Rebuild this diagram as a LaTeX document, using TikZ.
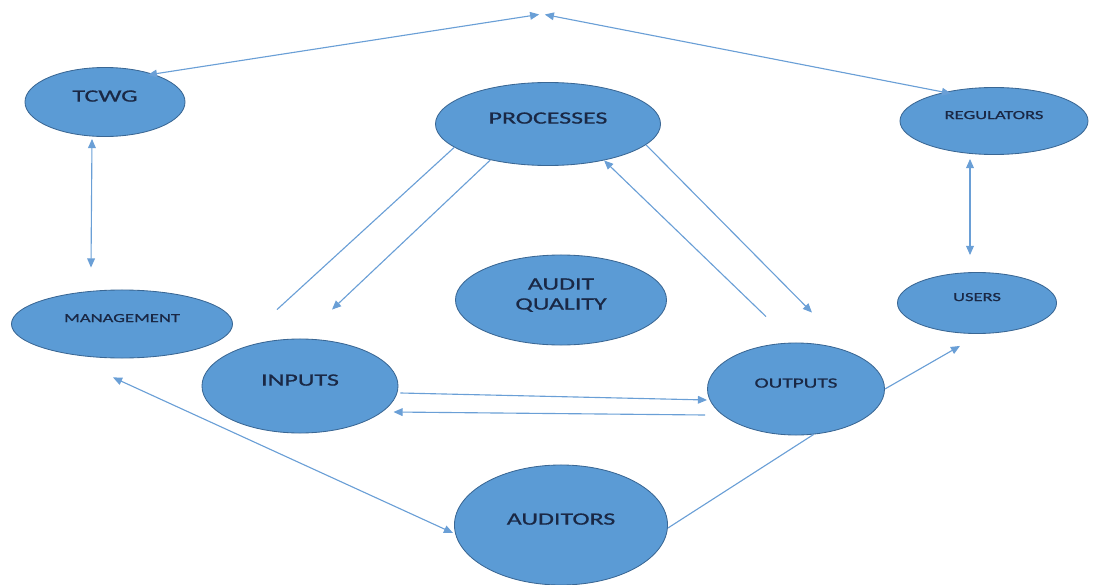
\documentclass[tikz,border=0pt]{standalone}
\usepackage{fontspec}
\newfontfamily\bubblefont[FakeStretch=1.5,FakeBold=0.7]{Carlito}
\usetikzlibrary{arrows.meta,calc,shapes.geometric}
\definecolor{BubbleBlue}{HTML}{5B9BD5}
\definecolor{BubbleEdge}{HTML}{3A6794}
\definecolor{LinkBlue}{HTML}{6A9FD6}
\definecolor{LabelNavy}{HTML}{1A2845}

\begin{document}
\begin{tikzpicture}[x=0.025cm,y=-0.025cm,
 bubble/.style={ellipse,draw=BubbleEdge,fill=BubbleBlue,line width=0.6pt,
 text=LabelNavy,align=center,text depth=8.5pt,inner sep=0pt,
 font=\bubblefont\fontsize{12.3}{14.2}\selectfont},
 small/.style={font=\bubblefont\fontsize{8.8}{10.5}\selectfont},
 mid/.style={font=\bubblefont\fontsize{10.1}{12}\selectfont},
 link/.style={draw=LinkBlue,line width=0.8pt},
 flow/.style={-{Triangle[length=6.5pt,width=5.5pt]}},
 twoway/.style={{Triangle[length=6.5pt,width=5.5pt]}-{Triangle[length=6.5pt,width=5.5pt]}}]
\useasboundingbox (0,0) rectangle (1094,585);
\node[bubble,minimum width=4cm,minimum height=1.725cm] (tcwg) at (105,102) {TCWG};
\node[bubble,minimum width=5.625cm,minimum height=2.075cm] (processes) at (548,124) {PROCESSES};
\node[bubble,small,minimum width=4.7cm,minimum height=1.675cm] (regulators) at (994,121) {REGULATORS};
\node[bubble,minimum width=5.275cm,minimum height=2.25cm] (quality) at (561,300) {AUDIT\\QUALITY};
\node[bubble,small,minimum width=3.975cm,minimum height=1.525cm] (users) at (977,303) {USERS};
\node[bubble,small,minimum width=5.525cm,minimum height=1.7cm] (management) at (122,324) {MANAGEMENT};
\node[bubble,minimum width=4.9cm,minimum height=2.35cm] (inputs) at (300,386) {INPUTS};
\node[bubble,mid,minimum width=4.425cm,minimum height=2.3cm] (outputs) at (796,389) {OUTPUTS};
\node[bubble,minimum width=5.325cm,minimum height=3cm] (auditors) at (561,525) {AUDITORS};
\coordinate (apex) at (542,14);

% links
\draw[link,twoway,shorten <=-4pt,shorten >=2pt] (tcwg.30) -- (apex);
\draw[link,twoway,shorten <=-5pt,shorten >=2pt] (regulators.150) -- (apex);
\draw[link,twoway] ($(tcwg.south)+(-13,2)$) -- ($(management.north)+(-31,-22)$);
\draw[link,twoway] ($(regulators.south)+(-24,4)$) -- ($(users.north)+(-7,-17)$);
\draw[link] ($(inputs.north)+(-23,-29)$) -- (processes.194);
\draw[link,flow] (processes.212) -- ($(inputs.north)+(32,-29)$);
\draw[link,flow] ($(outputs.north)+(-30,-26)$) -- (processes.327);
\draw[link,flow] (processes.348) -- ($(outputs.north)+(16,-30)$);
\draw[link,flow] ($(inputs.east)+(2,7)$) -- ($(outputs.west)+(0,11)$);
\draw[link,flow] ($(outputs.west)+(-2,26)$) -- ($(inputs.east)+(-5,26)$);
\draw[link,twoway] ($(auditors.west)+(-1,8)$) -- ($(management.south)+(-9,19)$);
\draw[link] ($(auditors.east)+(0,3)$) -- (outputs.291);
\draw[link,flow] (outputs.east) -- ($(users.south)+(-17,12)$);
\end{tikzpicture}
\end{document}
